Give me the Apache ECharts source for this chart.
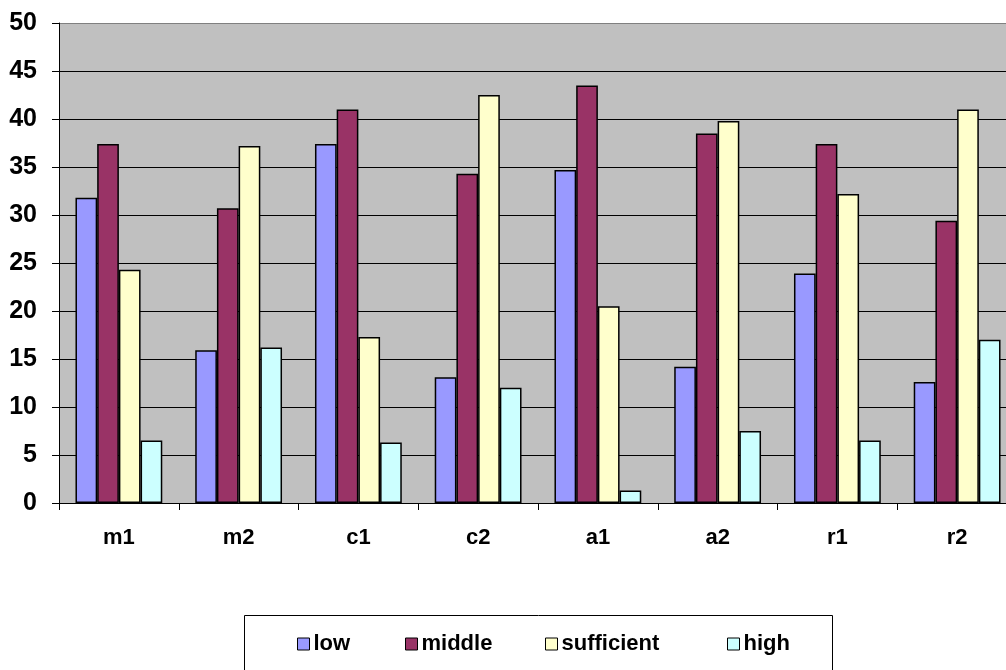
<!DOCTYPE html>
<html>
<head>
<meta charset="utf-8">
<script src="https://cdn.jsdelivr.net/npm/echarts@6/dist/echarts.min.js"></script>
<style>
html,body{margin:0;padding:0;background:#fff;}
#chart{width:1006px;height:670px;}
</style>
</head>
<body>
<div id="chart"></div>
<script>
const categories = ['m1','m2','c1','c2','a1','a2','r1','r2'];
const seriesNames = ['low','middle','sufficient','high'];
const low        = [31.8, 15.9, 37.4, 13.1, 34.7, 14.2, 23.9, 12.6];
const middle     = [37.4, 30.7, 41.0, 34.3, 43.5, 38.5, 37.4, 29.4];
const sufficient = [24.3, 37.2, 17.3, 42.5, 20.5, 39.8, 32.2, 41.0];
const high       = [6.5, 16.2, 6.3, 12.0, 1.3, 7.5, 6.5, 17.0];
const colors = ['#9999FF', '#993366', '#FFFFCC', '#CCFFFF'];
const yMin = 0, yMax = 50, yStep = 5;

const FONT = '"Liberation Sans", Arial, sans-serif';
const values = [low, middle, sufficient, high];
const legendLefts = [297, 405, 545, 727];

const gridLineColors = [];
for (let v = yMin; v <= yMax; v += yStep) gridLineColors.push(v === yMax ? '#808080' : '#000000');

const chart = echarts.init(document.getElementById('chart'), null, {renderer: 'canvas'});
chart.setOption({
  animation: false,
  backgroundColor: '#ffffff',
  color: colors,
  grid: {
    left: 59, top: 23, width: 958, height: 480,
    outerBoundsMode: 'none',
    containLabel: false,
    show: true, backgroundColor: '#C0C0C0', borderWidth: 0
  },
  legend: seriesNames.map((n, i) => ({
    data: [n],
    left: legendLefts[i],
    top: 633,
    padding: 0,
    icon: 'rect',
    itemWidth: 12,
    itemHeight: 12,
    itemGap: 0,
    itemStyle: {borderColor: '#000', borderWidth: 1},
    textStyle: {fontFamily: FONT, fontWeight: 'bold', fontSize: 22, color: '#000', padding: [0,0,0,-1]}
  })),
  graphic: [{
    type: 'rect',
    shape: {x: 244.5, y: 615.5, width: 588, height: 70},
    style: {fill: 'none', stroke: '#000', lineWidth: 1},
    silent: true
  }],
  xAxis: {
    type: 'category',
    data: categories,
    axisLine: {show: true, lineStyle: {color: '#000', width: 1}},
    axisTick: {show: true, alignWithLabel: false, length: 7, lineStyle: {color: '#000'}},
    axisLabel: {fontFamily: FONT, fontWeight: 'bold', fontSize: 22, color: '#000', margin: 24},
    splitLine: {show: false}
  },
  yAxis: {
    type: 'value',
    min: yMin, max: yMax, interval: yStep,
    axisLine: {show: true, lineStyle: {color: '#000', width: 1}},
    axisTick: {show: true, length: 7, lineStyle: {color: '#000'}},
    axisLabel: {fontFamily: FONT, fontWeight: 'bold', fontSize: 25, color: '#000', margin: 22},
    splitLine: {show: true, lineStyle: {color: gridLineColors, width: 1}}
  },
  series: seriesNames.map((n, i) => ({
    name: n,
    type: 'bar',
    data: values[i],
    barWidth: 21.7,
    barGap: '0%',
    itemStyle: {color: colors[i], borderColor: '#000', borderWidth: 1.5}
  }))
});
</script>
</body>
</html>
